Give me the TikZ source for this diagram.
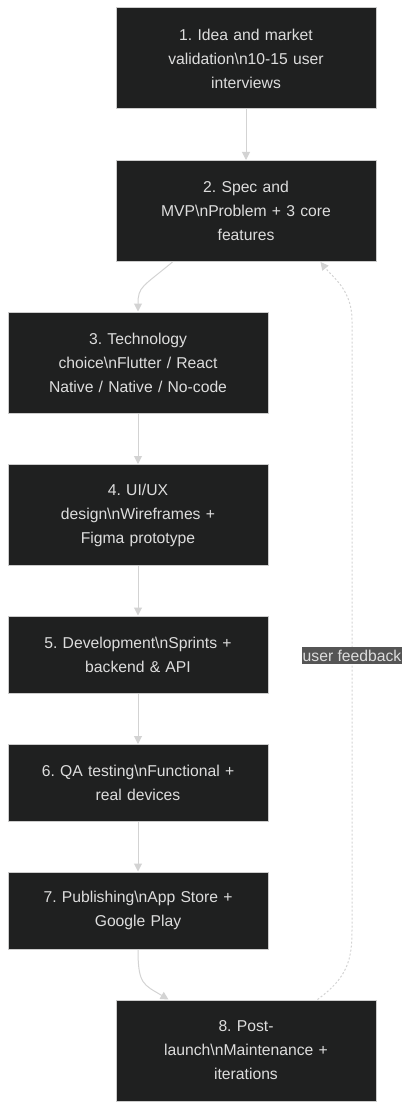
\documentclass[tikz,border=0pt]{standalone}
\usepackage{fontspec}
\setmainfont{Liberation Sans}
\usetikzlibrary{arrows.meta}
\frenchspacing
\definecolor{boxfill}{HTML}{1F2020}
\definecolor{boxline}{HTML}{CCCCCC}
\definecolor{boxtext}{HTML}{DDDDDD}
\definecolor{edge}{HTML}{D3D3D3}
\definecolor{lblfill}{HTML}{555555}
\tikzset{
  stepbox/.style={draw=boxline, line width=1pt, fill=boxfill, text=boxtext,
    minimum width=260pt, text width=240pt, align=center, inner sep=0pt,
    font=\fontsize{15.7}{24}\selectfont},
  tall/.style={minimum height=101pt},
  short/.style={minimum height=77pt},
  flow/.style={draw=edge, line width=1pt, -{Triangle[length=8pt,width=8pt]}},
  fb/.style={draw=edge, line width=1pt, dash pattern=on 2pt off 2pt, -{Triangle[length=8pt,width=8pt]}},
  fblabel/.style={fill=lblfill, text=boxtext, inner xsep=1pt, inner ysep=3pt, font=\fontsize{15.7}{18}\selectfont}
}
\begin{document}
\begin{tikzpicture}[x=1pt,y=-1pt]
\useasboundingbox (0,0) rectangle (412,1110);
\node[stepbox,tall]  (b1) at (246,58.5)  {1. Idea and market\\validation\textbackslash n10-15 user\\interviews};
\node[stepbox,tall]  (b2) at (246,211)   {2. Spec and\\MVP\textbackslash nProblem + 3 core\\features};
\node[stepbox,tall]  (b3) at (138,362.5) {3. Technology\\choice\textbackslash nFlutter / React\\Native / Native / No-code};
\node[stepbox,tall]  (b4) at (138,515)   {4. UI/UX\\design\textbackslash nWireframes +\\Figma prototype};
\node[stepbox,short] (b5) at (138,654.5) {5. Development\textbackslash nSprints +\\backend \& API};
\node[stepbox,short] (b6) at (138,783)   {6. QA testing\textbackslash nFunctional +\\real devices};
\node[stepbox,short] (b7) at (138,910.5) {7. Publishing\textbackslash nApp Store +\\Google Play};
\node[stepbox,tall]  (b8) at (246,1050.5){8. Post-\\launch\textbackslash nMaintenance +\\iterations};

\draw[flow] (b1) -- (b2);
\draw[flow] ([xshift=57pt]b2.south west) .. controls +(-30,25) and +(0,-25) .. (b3.north);
\draw[flow] (b3) -- (b4);
\draw[flow] (b4) -- (b5);
\draw[flow] (b5) -- (b6);
\draw[flow] (b6) -- (b7);
\draw[flow] (b7.south) .. controls +(0,35) and +(-25,-15) .. ([xshift=53pt]b8.north west);
\draw[fb] ([xshift=202pt]b8.north west) .. controls +(30,-22) and +(0,30) .. (352,930)
  -- node[fblabel, pos=0.45] (fbl) {user feedback} (352,320)
  .. controls +(0,-30) and +(12,15) .. ([xshift=205pt]b2.south west);
\end{tikzpicture}
\end{document}
